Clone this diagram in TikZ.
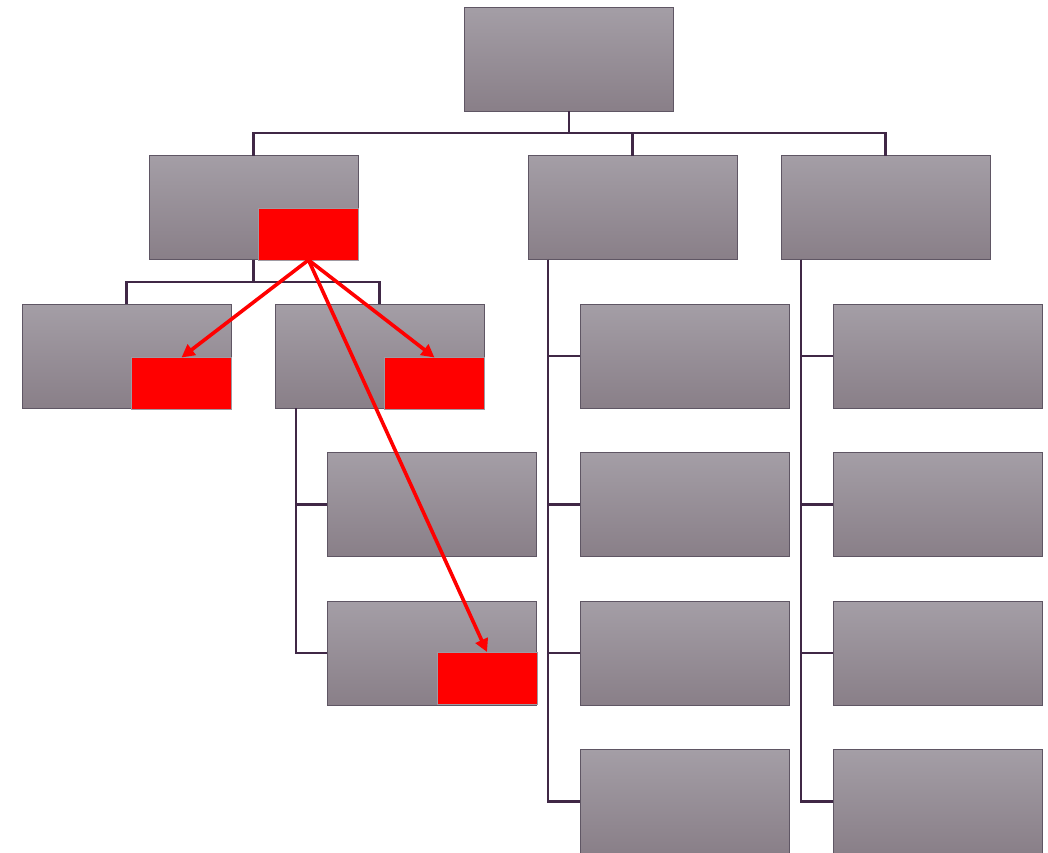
\documentclass[tikz,border=0pt]{standalone}
\usetikzlibrary{
  positioning,     % below=of etc.
  arrows.meta      % triangle tips for the red arrows
}
\definecolor{boxtop}{RGB}{164,158,166}
\definecolor{boxbot}{RGB}{137,127,136}
\definecolor{boxline}{RGB}{95,86,100}
\definecolor{lk}{RGB}{64,40,70}
\tikzset{
    node distance=44.5pt and 44pt,
    every node/.style = {
        rectangle,
        outer sep = 0pt,
        inner sep = 0pt
    },
    unit/.style = {
        minimum width=209pt,
        minimum height=104pt,
        draw=boxline,
        line width=0.8pt,
        top color=boxtop,
        bottom color=boxbot
    },
    flag/.style = {
        fill=red,
        draw=boxline!60,
        line width=0.5pt,
        minimum width=100pt,
        minimum height=52pt,
        anchor=south east
    },
    link/.style = {draw=lk, line width=2.2pt},
    jump/.style = {draw=red, line width=3.6pt, -{Triangle[length=13pt,width=13pt]}}
}

\begin{document}
\begin{tikzpicture}[x=1pt,y=-1pt]

  \useasboundingbox (0,0) rectangle (1048,852);

  %% top
  \node [unit] (root) at (569,59) {};

  %% first row
  \node [unit, below=of root, xshift=-315.5pt] (A) {};
  \node [unit, below=of root, xshift=63.5pt] (B) {};
  \node [unit, right=of B] (C) {};

  %% under A
  \node [unit, below=of A, xshift=-127pt] (A1) {};
  \node [unit, right=of A1] (A2) {};
  \node [unit, below=of A2, xshift=52pt] (A2a) {};
  \node [unit, below=of A2a] (A2b) {};

  %% under B and C
  \node [unit, below=of B, xshift=52pt] (B1) {};
  \node [unit, below=of B1] (B2) {};
  \node [unit, below=of B2] (B3) {};
  \node [unit, below=of B3] (B4) {};

  \node [unit, below=of C, xshift=52pt] (C1) {};
  \node [unit, below=of C1] (C2) {};
  \node [unit, below=of C2] (C3) {};
  \node [unit, below=of C3] (C4) {};

  %% connectors
  \draw [link] (root.south) -- ++(0,22) coordinate (bus);
  \draw [link] (A.north) |- (bus) -| (C.north);
  \draw [link] (B.north) -- (B.north |- bus);

  \draw [link] (A.south) -- ++(0,22.5) coordinate (busA);
  \draw [link] (A1.north) |- (busA) -| (A2.north);

  \foreach \k in {A2a,A2b}
    \draw [link] ([xshift=21pt]A2.south west) |- (\k.west);
  \foreach \k in {B1,B2,B3,B4}
    \draw [link] ([xshift=20pt]B.south west) |- (\k.west);
  \foreach \k in {C1,C2,C3,C4}
    \draw [link] ([xshift=20pt]C.south west) |- (\k.west);

  %% red marks
  \node [flag] (fA) at ([shift={(0.5,0.5)}]A.south east) {};
  \node [flag] (fA1) at ([shift={(0.5,1.5)}]A1.south east) {};
  \node [flag] (fA2) at ([shift={(0.5,1.5)}]A2.south east) {};
  \node [flag] (fA2b) at ([shift={(1,-1)}]A2b.south east) {};

  \draw [jump] (fA.south) -- (fA1.north);
  \draw [jump] (fA.south) -- (fA2.north);
  \draw [jump] (fA.south) -- (fA2b.north);

\end{tikzpicture}
\end{document}
